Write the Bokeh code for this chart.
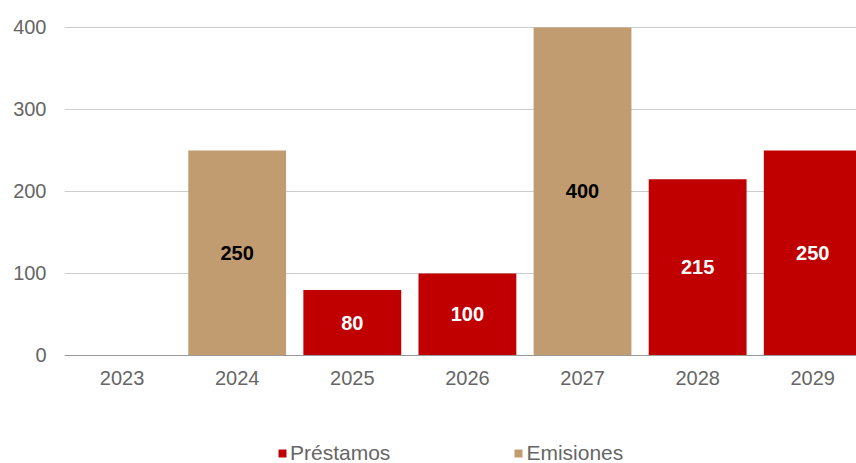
from bokeh.plotting import figure
from bokeh.models import ColumnDataSource, Range1d, FixedTicker, Legend, LegendItem
from bokeh.core.properties import value
from bokeh.embed import file_html
from bokeh.resources import INLINE

years = ["2023", "2024", "2025", "2026", "2027", "2028", "2029"]
prestamos = [0, 0, 80, 100, 0, 215, 250]
emisiones = [0, 250, 0, 0, 400, 0, 0]
y_ticks = [0, 100, 200, 300, 400]
series_names = ["Préstamos", "Emisiones"]

RED = "#C00000"
TAN = "#C29C71"
FONT = "Liberation Sans"
GRAY_TXT = "#666666"

idx = list(range(len(years)))
src = ColumnDataSource(dict(x=idx, prestamos=prestamos, emisiones=emisiones))

p = figure(width=856, height=463,
           x_range=Range1d(-0.5, 6.38), y_range=Range1d(-131.7, 432.9),
           output_backend="svg", toolbar_location=None,
           min_border_left=64, min_border_right=0, min_border_top=0, min_border_bottom=0)
p.outline_line_color = None
p.xgrid.grid_line_color = None
p.ygrid.ticker = FixedTicker(ticks=y_ticks)
p.ygrid.grid_line_color = "#cccccc"
p.ygrid.grid_line_width = 1

rs = p.vbar_stack(["prestamos", "emisiones"], x="x", width=0.85, source=src,
                  fill_color=[RED, TAN], line_color=None)

# data labels
lx, ly, lt, lc = [], [], [], []
for i in idx:
    if prestamos[i] > 0:
        lx.append(i); ly.append(prestamos[i] / 2); lt.append(str(prestamos[i])); lc.append("white")
    if emisiones[i] > 0:
        base = prestamos[i]
        lx.append(i); ly.append(base + emisiones[i] / 2); lt.append(str(emisiones[i])); lc.append("black")
lsrc = ColumnDataSource(dict(x=lx, y=ly, t=lt, c=lc))
p.text(x="x", y="y", text="t", text_color="c", source=lsrc,
       text_align="center", text_baseline="middle",
       text_font=value(FONT), text_font_style="bold", text_font_size="20px")

# axes
p.xaxis.fixed_location = 0
p.xaxis.ticker = FixedTicker(ticks=idx)
p.xaxis.major_label_overrides = {i: y for i, y in enumerate(years)}
p.xaxis.axis_line_color = "#999999"
p.xaxis.major_tick_line_color = None
p.xaxis.minor_tick_line_color = None
p.xaxis.major_tick_out = 0
p.xaxis.major_tick_in = 0
p.xaxis.major_label_standoff = 16
p.yaxis.ticker = FixedTicker(ticks=y_ticks)
p.yaxis.axis_line_color = None
p.yaxis.major_tick_line_color = None
p.yaxis.minor_tick_line_color = None
p.yaxis.major_tick_out = 0
p.yaxis.major_tick_in = 0
p.yaxis.major_label_standoff = 18
for ax in (p.xaxis[0], p.yaxis[0]):
    ax.major_label_text_font = FONT
    ax.major_label_text_font_size = "20px"
    ax.major_label_text_color = GRAY_TXT

legend = Legend(items=[LegendItem(label=series_names[0], renderers=[rs[0]]),
                       LegendItem(label=series_names[1], renderers=[rs[1]])],
                location=(213, -2), orientation="horizontal",
                glyph_width=10, glyph_height=10, label_standoff=3, spacing=123,
                padding=0, margin=0, border_line_color=None, background_fill_alpha=0,
                label_text_font=FONT, label_text_font_size="21px",
                label_text_color=GRAY_TXT, label_height=20)
p.add_layout(legend)

open("out.html", "w").write(file_html(p, INLINE))
